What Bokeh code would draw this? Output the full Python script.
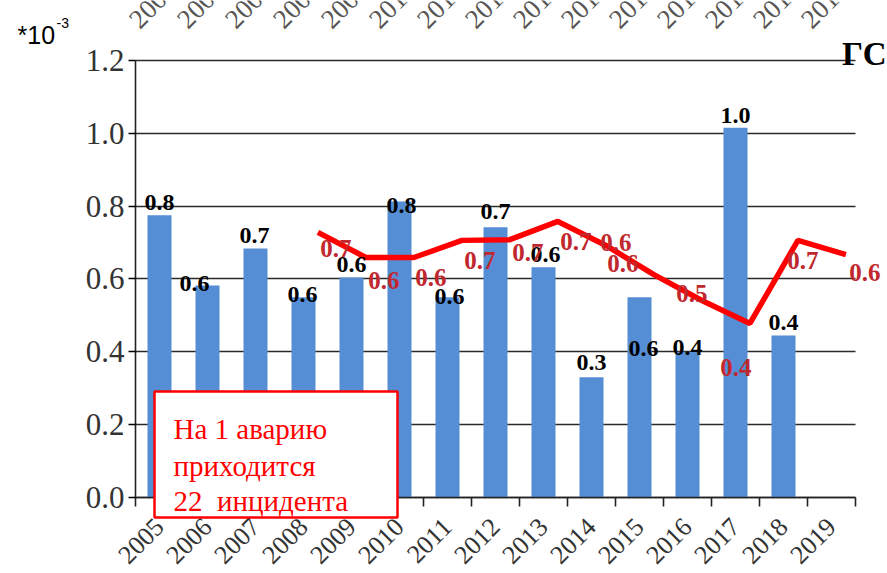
import math
import numpy as np
from bokeh.plotting import figure
from bokeh.models import (ColumnDataSource, Range1d, FixedTicker, LabelSet,
                          Label, BoxAnnotation, Grid)
from bokeh.core.properties import value
from bokeh.embed import file_html
from bokeh.resources import INLINE

# ---------------- data ----------------
years = [2005, 2006, 2007, 2008, 2009, 2010, 2011, 2012, 2013, 2014,
         2015, 2016, 2017, 2018, 2019]
year_labels = [str(y) for y in years]

bar_years = [2005, 2006, 2007, 2008, 2009, 2010, 2011, 2012, 2013, 2014,
             2015, 2016, 2017, 2018]
bar_values = [0.775, 0.582, 0.684, 0.55, 0.604, 0.813, 0.55, 0.742, 0.632,
              0.33, 0.55, 0.40, 1.015, 0.445]
bar_labels = ["0.8", "0.6", "0.7", "0.6", "0.6", "0.8", "0.6", "0.7", "0.6",
              "0.3", "0.6", "0.4", "1.0", "0.4"]

line_years = [2008, 2009, 2010, 2011, 2012, 2013, 2014, 2015, 2016, 2017,
              2018, 2019]
line_values = [0.728, 0.659, 0.659, 0.706, 0.708, 0.758, 0.692, 0.612,
               0.541, 0.478, 0.706, 0.667]
line_labels = ["0.7", "0.6", "0.6", "0.7", "0.7", "0.7", "0.6", "0.6",
               "0.5", "0.4", "0.7", "0.6"]

y_ticks = [0.0, 0.2, 0.4, 0.6, 0.8, 1.0, 1.2]
y_tick_labels = ["0.0", "0.2", "0.4", "0.6", "0.8", "1.0", "1.2"]

box_lines = ["На 1 аварию", "приходится", "22\u00a0 инцидента"]

# ---------------- styling (pixel offsets of labels) ----------------
bar_label_dx = [0, -13, -1, -1, 0, 2, 2, 0, 2, 0, 4, 0, 0, 0]
bar_label_dy = [13, 2, 13, 3, 13, -4, 1, 16, 13, 15, -51, 4, 12, 13]
line_label_dx = [18, 18, 17, 18, 18, 18, 10, -31, -10, -14, 5, 19]
line_label_dy = [-16, -23, -20, -20, -13, -20, 3, 11, 7, -44, -20, -18]
LINE_SHIFT = 0.3

SERIF = "Liberation Serif"
BAR_COLOR = "#558ED5"
LINE_COLOR = "#FF0000"
LINE_LABEL_COLOR = "#C0282D"

W, H = 887, 573
PX = 48.0        # px per year
PY = 364.2       # px per unit
X0_PIX, Y0_PIX = 135, 497


def dx(px):
    return 2004.5 + (px - X0_PIX) / PX


def dy(py):
    return (Y0_PIX - py) / PY


p = figure(width=W, height=H,
           x_range=Range1d(dx(0), dx(W)), y_range=Range1d(dy(H), dy(0)),
           output_backend="svg", toolbar_location=None, title=None,
           min_border_left=0, min_border_right=0, min_border_top=0,
           min_border_bottom=0)
p.outline_line_color = None
p.background_fill_color = "white"

# axes drawn at fixed data locations inside the frame
p.xaxis.fixed_location = 0
p.yaxis.fixed_location = 2004.5

# grid
p.xgrid.visible = False
p.ygrid.ticker = FixedTicker(ticks=y_ticks)
p.ygrid.grid_line_color = "#2a2a2a"
p.ygrid.grid_line_width = 1.6
p.ygrid.bounds = (0, 1.2)
if "cross_bounds" in Grid.properties():
    p.ygrid.cross_bounds = (2004.5, 2019.5)

# y axis
p.yaxis.ticker = FixedTicker(ticks=y_ticks)
p.yaxis.bounds = (0, 1.2)
p.yaxis.major_label_overrides = dict(zip(y_ticks, y_tick_labels))
p.yaxis.major_label_text_font = SERIF
p.yaxis.major_label_text_font_size = "31px"
p.yaxis.major_label_text_color = "#333333"
p.yaxis.major_label_standoff = 4
p.yaxis.axis_line_color = "#222222"
p.yaxis.axis_line_width = 1.6
p.yaxis.major_tick_in = 0
p.yaxis.major_tick_out = 7
p.yaxis.major_tick_line_width = 1.6
p.yaxis.minor_tick_line_color = None

# x axis
boundaries = [y - 0.5 for y in years] + [years[-1] + 0.5]
p.xaxis.ticker = FixedTicker(ticks=years, minor_ticks=boundaries)
p.xaxis.bounds = (2004.5, 2019.5)
p.xaxis.major_label_overrides = dict(zip(years, year_labels))
p.xaxis.major_tick_line_color = None
p.xaxis.minor_tick_in = 0
p.xaxis.minor_tick_out = 9
p.xaxis.minor_tick_line_color = "#222222"
p.xaxis.minor_tick_line_width = 1.6
p.xaxis.axis_line_color = "#222222"
p.xaxis.axis_line_width = 1.6
p.xaxis.major_label_orientation = math.pi / 4
p.xaxis.major_label_standoff = 16
p.xaxis.major_label_text_font = SERIF
p.xaxis.major_label_text_font_size = "26px"
p.xaxis.major_label_text_color = "#333333"

# bars
bar_src = ColumnDataSource(dict(x=bar_years, top=bar_values, label=bar_labels,
                                dx=bar_label_dx, dy=bar_label_dy))
p.vbar(x="x", top="top", width=0.5, bottom=0, source=bar_src,
       fill_color=BAR_COLOR, line_color=None)
p.add_layout(LabelSet(x="x", y="top", text="label", source=bar_src,
                      x_offset="dx", y_offset="dy",
                      text_align="center", text_baseline="middle",
                      text_font=value(SERIF), text_font_size="24px",
                      text_font_style="bold", text_color="black"))

# line (drawn against the shifted secondary category axis)
line_x = (np.array(line_years) + LINE_SHIFT).tolist()
line_src = ColumnDataSource(dict(x=line_x, y=line_values, label=line_labels,
                                 dx=line_label_dx, dy=line_label_dy))
p.line(x="x", y="y", source=line_src, line_color=LINE_COLOR, line_width=5.5)
p.add_layout(LabelSet(x="x", y="y", text="label", source=line_src,
                      x_offset="dx", y_offset="dy",
                      text_align="center", text_baseline="middle",
                      text_font=value(SERIF), text_font_size="25px",
                      text_font_style="bold", text_color=LINE_LABEL_COLOR))

# top (secondary) axis labels, cut off by the page top
p.text(x=years, y=[dy(23)] * len(years), text=year_labels, angle=math.pi / 4,
       x_offset=-26, text_align="left", text_baseline="alphabetic",
       text_font=value(SERIF), text_font_size="27px", text_color="#555555")

# annotation box
p.add_layout(BoxAnnotation(left=dx(154), right=dx(397), top=dy(391), bottom=dy(517),
                           fill_color="white", fill_alpha=1.0,
                           line_color="#FF0000", line_alpha=1.0, line_width=2.5))
for txt, base in zip(box_lines, [428, 465, 500]):
    p.add_layout(Label(x=dx(173), y=dy(base), text=txt,
                       text_font=SERIF, text_font_size="29px",
                       text_color="#FF0000", text_baseline="alphabetic"))

# corner texts
p.add_layout(Label(x=dx(17), y=dy(34), text="*10",
                   text_font="Liberation Sans", text_font_size="25px",
                   text_color="black", text_baseline="alphabetic"))
p.add_layout(Label(x=dx(56), y=dy(22), text="-3",
                   text_font="Liberation Sans", text_font_size="14px",
                   text_color="black", text_baseline="alphabetic"))
p.add_layout(Label(x=dx(886), y=dy(53), text="ГС",
                   text_font=SERIF, text_font_size="33px", text_font_style="bold",
                   text_color="black", text_align="right",
                   text_baseline="alphabetic"))

open("out.html", "w").write(file_html(p, INLINE))
